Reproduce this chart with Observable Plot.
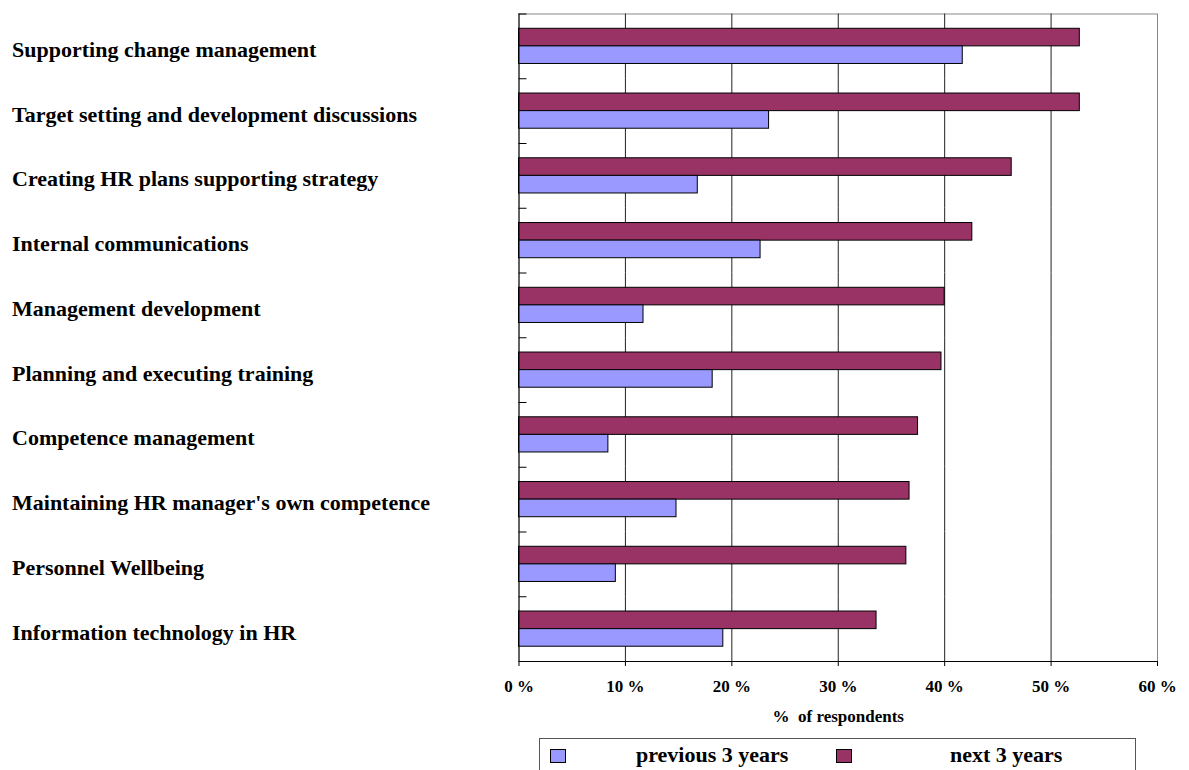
<!DOCTYPE html>
<html>
<head>
<meta charset="utf-8">
<script src="https://cdn.jsdelivr.net/npm/d3@7"></script>
<script src="https://cdn.jsdelivr.net/npm/@observablehq/plot@0.6"></script>
<style>
  html, body { margin: 0; padding: 0; background: #fff; }
  body { font-family: 'Liberation Serif', 'Times New Roman', serif; overflow: hidden; }
  #wrap { position: relative; width: 1189px; height: 770px; }
  #chart svg { display: block; }
  .legend { position: absolute; left: 539px; top: 738px; width: 597px; height: 46px;
            border: 1px solid #555; box-sizing: border-box; }
  .legend .sw { position: absolute; top: 10px; width: 16px; height: 14px; border: 1px solid #000; box-sizing: border-box; }
  .legend .lb { position: absolute; top: 4px; font-size: 22px; font-weight: bold; line-height: 24px; color: #000; white-space: nowrap; }
</style>
</head>
<body>
<div id="wrap">
  <div id="chart"></div>
  <div class="legend" id="legend"></div>
</div>
<script>
// ---- data ----
const categories = [
  "Supporting change management",
  "Target setting and development discussions",
  "Creating HR plans supporting strategy",
  "Internal communications",
  "Management development",
  "Planning and executing training",
  "Competence management",
  "Maintaining HR manager's own competence",
  "Personnel Wellbeing",
  "Information technology in HR"
];
const previous3 = [41.7, 23.5, 16.8, 22.7, 11.7, 18.2, 8.4, 14.8, 9.1, 19.2];
const next3     = [52.7, 52.7, 46.3, 42.6, 40.0, 39.7, 37.5, 36.7, 36.4, 33.6];
const seriesNames = ["next 3 years", "previous 3 years"];
const seriesColors = ["#993366", "#9999FF"];
const legendOrder = ["previous 3 years", "next 3 years"];
const xTicks = [0, 10, 20, 30, 40, 50, 60];
const gridTicks = [10, 20, 30, 40, 50];
const axisTitle = "%  of respondents";

const rows = categories.flatMap((c, i) => [
  {category: c, series: seriesNames[0], value: next3[i]},
  {category: c, series: seriesNames[1], value: previous3[i]}
]);

// ---- layout ----
const W = 1189, H = 730;
const mL = 518.5, mR = 32, mT = 13.5, mB = 69;
const font = "'Liberation Serif', 'Times New Roman', serif";

const chart = Plot.plot({
  width: W, height: H,
  marginLeft: mL, marginRight: mR, marginTop: mT, marginBottom: mB,
  style: {fontFamily: font, fontSize: "17px", fontWeight: "bold", color: "#000", background: "#fff"},
  x: {domain: [0, 60]},
  y: {domain: seriesNames, paddingInner: 0, paddingOuter: 0.84, round: false, axis: null},
  fy: {domain: categories, padding: 0, round: false, axis: null},
  color: {domain: seriesNames, range: seriesColors},
  marks: [
    Plot.frame({stroke: "#888", facet: "super"}),
    Plot.gridX({ticks: gridTicks, stroke: "#222", strokeOpacity: 1}),
    Plot.barX(rows, {fy: "category", y: "series", x: "value", fill: "series", stroke: "#000", strokeWidth: 1}),
    Plot.ruleX([0], {stroke: "#000"}),
    Plot.frame({anchor: "top", insetRight: W - mL - mR - 7, stroke: "#000"}),
    Plot.frame({anchor: "bottom", facet: "super", stroke: "#000"}),
    Plot.text(categories, {fy: d => d, text: d => d, frameAnchor: "left", textAnchor: "start",
      dx: 11.5 - mL, dy: 3.5, fontSize: 22, fontWeight: "bold", fill: "#000"}),
    Plot.axisX({ticks: xTicks, tickFormat: d => d + " %", tickSize: 5, tickPadding: 13,
      stroke: "#000", fill: "#000", label: axisTitle, labelAnchor: "center", labelArrow: "none", labelOffset: 60})
  ]
});
document.getElementById("chart").appendChild(chart);

// ---- legend ----
const legend = document.getElementById("legend");
const swLeft = [10, 296], lbLeft = [96, 410];
legendOrder.forEach((s, i) => {
  const sw = document.createElement("div");
  sw.className = "sw";
  sw.style.left = swLeft[i] + "px";
  sw.style.background = seriesColors[seriesNames.indexOf(s)];
  legend.appendChild(sw);
  const lb = document.createElement("div");
  lb.className = "lb";
  lb.style.left = lbLeft[i] + "px";
  lb.textContent = s;
  legend.appendChild(lb);
});
</script>
</body>
</html>
